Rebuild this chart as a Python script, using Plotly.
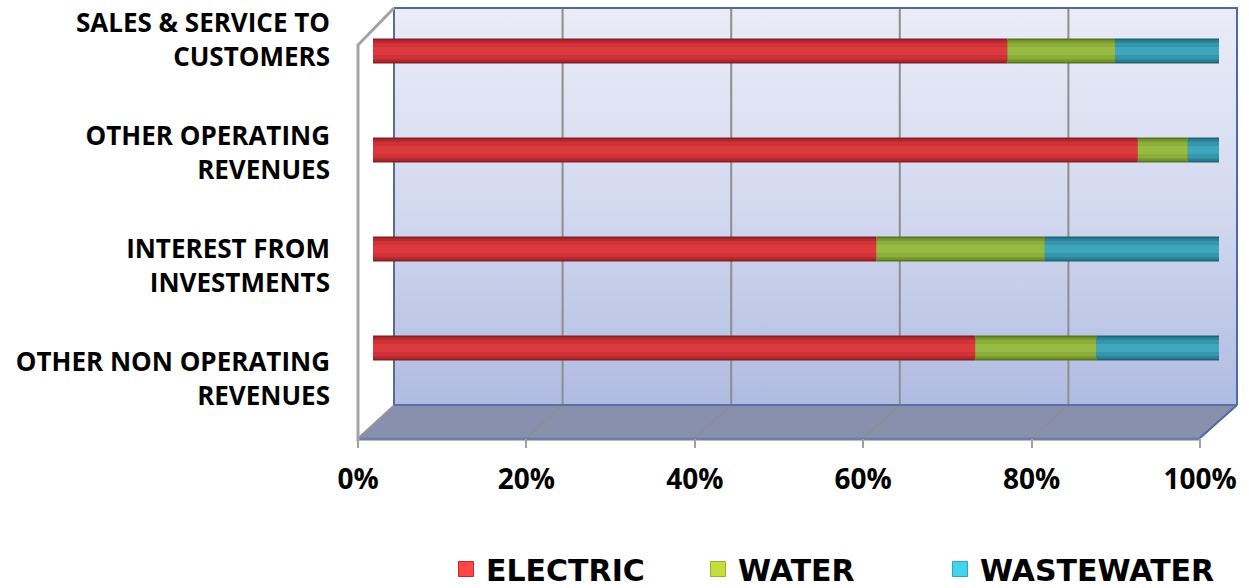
import plotly.graph_objects as go

W, H = 1249, 588

# ---- data -------------------------------------------------------------
CATEGORIES = [
    "SALES & SERVICE TO<br>CUSTOMERS",
    "OTHER OPERATING<br>REVENUES",
    "INTEREST FROM<br>INVESTMENTS",
    "OTHER NON OPERATING<br>REVENUES",
]
ELECTRIC = [75.0, 90.4, 59.5, 71.2]
WATER = [12.7, 5.9, 19.9, 14.3]
WASTEWATER = [12.3, 3.7, 20.6, 14.5]
SERIES_NAMES = ["ELECTRIC", "WATER", "WASTEWATER"]
X_TICKS = [0, 20, 40, 60, 80, 100]
X_TICK_LABELS = ["0%", "20%", "40%", "60%", "80%", "100%"]

# cylinder shading per series: edge, shoulder, body, highlight, legend swatch
PALETTE = {
    "ELECTRIC": ("#8a1f24", "#b12a30", "#d13137", "#dd3a40", "#ff4545"),
    "WATER": ("#587520", "#78972f", "#8cae3a", "#97bb42", "#c6de3a"),
    "WASTEWATER": ("#1f6675", "#2c8196", "#3597ae", "#3fa6be", "#45d2ec"),
}
LEGEND_EDGE = {"ELECTRIC": "#c02a2a", "WATER": "#9ab030", "WASTEWATER": "#2aa6bf"}
# left edge (pixels) of each legend entry's text
LEGEND_TEXT_X = {"ELECTRIC": 488, "WATER": 740, "WASTEWATER": 982}

# ---- 3-D frame geometry (pixels) -------------------------------------
BACK_L, BACK_R = 394, 1237
FRONT_L, FRONT_R = 358, 1200
WALL_TOP, WALL_BOT, FLOOR_FRONT = 8, 405, 438


def back_x(p):
    return BACK_L + (BACK_R - BACK_L) * p / 100.0


def front_x(p):
    return FRONT_L + (FRONT_R - FRONT_L) * p / 100.0


fig = go.Figure()

# back wall with vertical gradient (light at the top, bluer at the floor)
fig.add_trace(go.Scatter(
    x=[BACK_L, BACK_R, BACK_R, BACK_L, BACK_L],
    y=[WALL_TOP, WALL_TOP, WALL_BOT, WALL_BOT, WALL_TOP],
    mode="lines", fill="toself", line=dict(width=0),
    fillgradient=dict(type="vertical",
                      colorscale=[[0, "#afbbe1"], [0.5, "#d3d9ef"], [1, "#eaecf7"]]),
    hoverinfo="skip", showlegend=False, xaxis="x", yaxis="y",
))
# floor
fig.add_trace(go.Scatter(
    x=[BACK_L, BACK_R, FRONT_R, FRONT_L, BACK_L],
    y=[WALL_BOT, WALL_BOT, FLOOR_FRONT, FLOOR_FRONT, WALL_BOT],
    mode="lines", fill="toself", fillcolor="#8890ad", line=dict(width=0),
    hoverinfo="skip", showlegend=False, xaxis="x", yaxis="y",
))


def seg(xs, ys, color, width):
    fig.add_trace(go.Scatter(
        x=xs, y=ys, mode="lines", line=dict(color=color, width=width),
        hoverinfo="skip", showlegend=False, xaxis="x", yaxis="y",
    ))


# gridlines on the back wall and across the floor
for p in X_TICKS[1:-1]:
    seg([back_x(p), back_x(p)], [WALL_TOP, WALL_BOT], "#8e8e8e", 2)
    seg([back_x(p), front_x(p)], [WALL_BOT, FLOOR_FRONT], "#8e8e8e", 1.5)
seg([back_x(0), front_x(0)], [WALL_BOT, FLOOR_FRONT], "#9a9a9a", 1.5)

# wall borders
seg([BACK_L, BACK_R, BACK_R], [WALL_TOP, WALL_TOP, WALL_BOT], "#4f69a6", 2)
seg([BACK_L, BACK_L], [WALL_TOP, WALL_BOT], "#5a6a90", 2)
seg([BACK_L, BACK_R], [WALL_BOT, WALL_BOT], "#5a6fa8", 2)
seg([BACK_R, FRONT_R], [WALL_BOT, FLOOR_FRONT], "#4f69a6", 2)
seg([FRONT_L, FRONT_R], [FLOOR_FRONT + 1, FLOOR_FRONT + 1], "#6f7faa", 3)
# side wall outline
seg([BACK_L, FRONT_L, FRONT_L], [WALL_TOP, WALL_TOP + 37, FLOOR_FRONT + 3], "#a3a3a3", 3)

# ---- stacked cylinders (overlay with explicit bases) -------------------
values = {"ELECTRIC": ELECTRIC, "WATER": WATER, "WASTEWATER": WASTEWATER}
bases = {}
running = [0.0] * len(CATEGORIES)
for name in SERIES_NAMES:
    bases[name] = list(running)
    running = [r + v for r, v in zip(running, values[name])]

LAYERS = [(0.255, 0), (0.215, 1), (0.165, 2), (0.08, 3)]
for width, ci in LAYERS:
    for name in SERIES_NAMES:
        fig.add_trace(go.Bar(
            y=CATEGORIES, x=values[name], base=bases[name],
            orientation="h", width=width,
            marker=dict(color=PALETTE[name][ci], line=dict(width=0)),
            name=name, legendgroup=name, showlegend=False,
            hoverinfo="skip", xaxis="x2", yaxis="y2",
        ))

# one legend per series so each entry sits at its own spot along the bottom
legend_ids = ["legend", "legend2", "legend3"]
legend_font = dict(family="DejaVu Sans", size=30, weight="bold", color="black")
legend_layouts = {}
for name, lid in zip(SERIES_NAMES, legend_ids):
    fig.add_trace(go.Scatter(
        x=[None], y=[None], mode="markers", name=name,
        marker=dict(symbol="square", size=15, color=PALETTE[name][4],
                    line=dict(color=LEGEND_EDGE[name], width=1)),
        legendgroup=name, showlegend=True, legend=lid,
        xaxis="x2", yaxis="y2",
    ))
    legend_layouts[lid] = dict(
        x=(LEGEND_TEXT_X[name] - 42) / W, xanchor="left",
        y=1 - 569 / H, yanchor="middle",
        font=legend_font, bgcolor="rgba(0,0,0,0)", itemsizing="trace",
        borderwidth=0,
    )

# carrier for the front axis and category labels
fig.add_trace(go.Scatter(
    x=[0] * len(CATEGORIES), y=CATEGORIES, mode="markers",
    marker=dict(opacity=0), hoverinfo="skip", showlegend=False,
    xaxis="x3", yaxis="y3",
))

hidden = dict(visible=False, showgrid=False, zeroline=False)

fig.update_layout(
    width=W, height=H,
    margin=dict(l=0, r=0, t=0, b=0, autoexpand=False),
    paper_bgcolor="white", plot_bgcolor="rgba(0,0,0,0)",
    barmode="overlay",
    font=dict(family="Open Sans", color="black"),
    xaxis=dict(domain=[0, 1], range=[0, W], **hidden),
    yaxis=dict(domain=[0, 1], range=[H, 0], **hidden),
    xaxis2=dict(domain=[373 / W, 1219 / W], range=[0, 100], anchor="y2", **hidden),
    yaxis2=dict(domain=[1 - 397.5 / H, 1 - 1.5 / H], range=[3.5, -0.5],
                type="category", categoryarray=CATEGORIES, anchor="x2", **hidden),
    xaxis3=dict(
        domain=[FRONT_L / W, FRONT_R / W], range=[0, 100], anchor="y3",
        tickvals=X_TICKS, ticktext=X_TICK_LABELS,
        ticks="outside", ticklen=9, tickwidth=2, tickcolor="#a0a0a0",
        ticklabelstandoff=7,
        tickfont=dict(family="Open Sans", size=28, weight="bold", color="black"),
        showgrid=False, zeroline=False, showline=False,
    ),
    yaxis3=dict(
        domain=[1 - FLOOR_FRONT / H, 1 - 6 / H], range=[3.522, -0.301],
        type="category", categoryarray=CATEGORIES, anchor="free", position=330 / W,
        tickvals=CATEGORIES, ticktext=CATEGORIES, ticks="",
        tickfont=dict(family="Open Sans", size=26, weight="bold", color="black"),
        showgrid=False, zeroline=False, showline=False,
    ),
    **legend_layouts,
)

fig.write_html("out.html")
